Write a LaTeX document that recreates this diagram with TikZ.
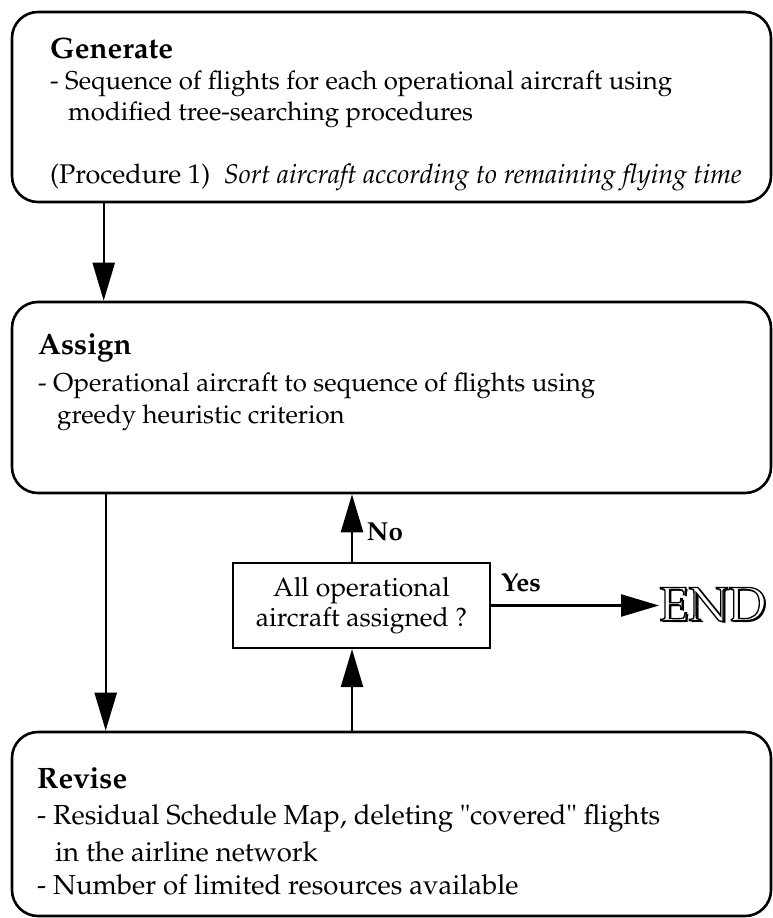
\documentclass[tikz,border=0pt]{standalone}
\usepackage[T1]{fontenc}
\usepackage{mathpazo}
\usepackage{tikz}
\usetikzlibrary{arrows.meta,calc}
\newcommand{\hollow}[1]{\textcolor{white}{\special{pdf:literal 0 G 2 Tr 1.3 w}#1\special{pdf:literal 0 Tr}}}

\begin{document}
\begin{tikzpicture}[x=1pt,y=-1pt,
  phase/.style={draw, line width=2.6pt, rounded corners=26pt, minimum width=759pt, inner sep=0pt},
  query/.style={draw, line width=2.2pt, minimum width=257pt, minimum height=85pt, inner sep=0pt, align=center,
    font=\fontsize{26.5}{30}\selectfont},
  flow/.style={line width=2.4pt, -{Triangle[length=38pt,width=22pt]}},
  head/.style={anchor=west, inner sep=0pt, font=\fontsize{29.5}{32}\selectfont\bfseries},
  item/.style={anchor=west, inner sep=0pt, font=\fontsize{25.8}{30}\selectfont},
  tag/.style={inner sep=0pt, font=\fontsize{26}{30}\selectfont\bfseries}]
\useasboundingbox (0,0) rectangle (773,918);
% the three phases
\node[phase, minimum height=190pt] (gen) at (391.5,107) {};
\node[phase, minimum height=191pt] (assign) at (391.5,397.5) {};
\node[phase, minimum height=184pt] (revise) at (391.5,824) {};
\node[query] (decide) at (361.5,605.5) {All operational\\aircraft assigned ?};
% texts
\node[head] (genT) at (50,48) {Generate};
\node[item] (gen1) at (50,84) {- Sequence of flights for each operational aircraft using};
\node[item] (gen2) at (68,115) {modified tree-searching procedures};
\node[item, font=\fontsize{27}{30}\selectfont] (gen3) at (50,177) {(Procedure 1)\enspace\textit{Sort aircraft according to remaining flying time}};
\node[head] (assignT) at (38,348) {Assign};
\node[item] (assign1) at (38,386) {- Operational aircraft to sequence of flights using};
\node[item] (assign2) at (57,418) {greedy heuristic criterion};
\node[head] (reviseT) at (37,778) {Revise};
\node[item, font=\fontsize{27.5}{30}\selectfont] (revise1) at (37,818) {- Residual Schedule Map, deleting "covered" flights};
\node[item, font=\fontsize{27.5}{30}\selectfont] (revise2) at (55,852) {in the airline network};
\node[item, font=\fontsize{27.5}{30}\selectfont] (revise3) at (37,885) {- Number of limited resources available};
% END, shadowed outline letters
\node[anchor=west, inner sep=0pt, font=\fontsize{48}{48}\selectfont] (done) at (659,605.5)
  {\rlap{\raisebox{-2pt}{\hspace{2.5pt}END}}\hollow{END}};
% connectors
\draw[flow] ([xshift=93pt]gen.south west) -- ([xshift=93pt]assign.north west);
\draw[flow] ([xshift=95pt]assign.south west) -- ([xshift=95pt]revise.north west);
\draw[flow] ([xshift=-9.5pt]decide.north) -- ([xshift=-9.5pt]decide.north |- assign.south);
\draw[flow] ([xshift=-9.5pt]decide.south |- revise.north) -- ([xshift=-9.5pt]decide.south);
\draw[flow] (decide.east) -- (done.west);
\node[tag] (no) at (385,532) {No};
\node[tag] (yes) at (521,583) {Yes};
\end{tikzpicture}
\end{document}
